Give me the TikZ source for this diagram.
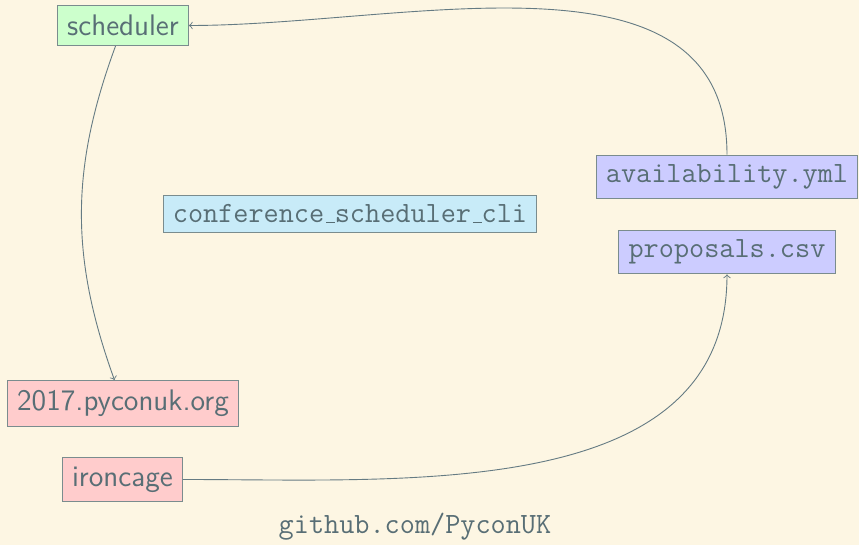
\documentclass[tikz,border=0pt]{standalone}
\usepackage{xcolor}
\definecolor{bg}{HTML}{FDF6E3}
\definecolor{ink}{HTML}{586E75}
\definecolor{edge}{HTML}{657B83}
\definecolor{frame}{HTML}{7A8C8E}
\definecolor{fgreen}{HTML}{CCFFCC}
\definecolor{fblue}{HTML}{C8EBF8}
\definecolor{fpurple}{HTML}{CCCCFF}
\definecolor{fred}{HTML}{FFCCCC}
\newcommand{\usc}{\leavevmode\kern.06em\vbox{\hrule width .3em}}
\tikzset{
  box/.style={draw=frame, line width=0.4pt, inner sep=3.87pt, text=ink, scale=1.24, transform shape, font=\fontsize{12}{14}\selectfont\sffamily},
  monobox/.style={draw=frame, line width=0.5pt, inner sep=4.8pt, text=ink, font=\fontsize{14.7}{17}\selectfont\ttfamily},
  conn/.style={draw=edge, line width=0.45pt, ->},
}
\begin{document}
\begin{tikzpicture}[x=0.5pt,y=-0.5pt]
\fill[bg] (0,0) rectangle (859,545);
\useasboundingbox (0,0) rectangle (859,545);
\node[box, fill=fgreen] (sched) at (123,25.5) {scheduler};
\node[monobox, fill=fpurple] (avail) at (727,177) {availability.yml};
\node[monobox, fill=fpurple] (props) at (727,252) {proposals.csv};
\node[monobox, fill=fblue] (cli) at (350,214) {conference\usc scheduler\usc cli};
\node[box, fill=fred] (site) at (123,403.5) {2017.pyconuk.org};
\node[box, fill=fred] (iron) at (122.5,479.5) {ironcage};
\node[text=ink, font=\fontsize{14.7}{17}\selectfont\ttfamily] (gh) at (415,527) {github.com/PyconUK};
\draw[conn] (sched) to[bend right=20] (site);
\draw[conn] (avail) to[out=90, in=0] (sched);
\draw[conn] (iron) to[out=0, in=-90] (props);
\end{tikzpicture}
\end{document}
